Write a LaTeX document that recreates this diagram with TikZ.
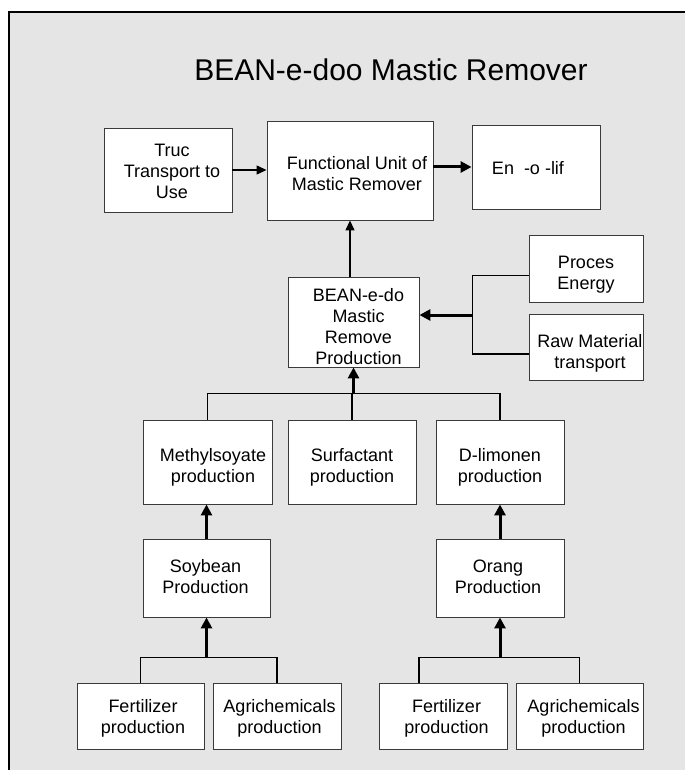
\documentclass[tikz,border=0pt]{standalone}
\usepackage{fontspec}
\setmainfont{Liberation Sans}
\usetikzlibrary{arrows.meta,positioning,calc}
\definecolor{panel}{HTML}{E5E5E5}
\definecolor{edge}{HTML}{3A3A3A}
\tikzset{
  box/.style={draw=edge,line width=0.9pt,fill=white,inner sep=0pt},
  boxtext/.style={align=center,inner sep=0pt,font=\fontsize{18}{21}\selectfont},
  feed/.style={line width=1.3pt},
  flow/.style={line width=1.3pt,-{Triangle[length=10pt,width=9pt]}},
  mainflow/.style={line width=3pt,-{Triangle[length=11pt,width=11pt]}}
}
\begin{document}
\begin{tikzpicture}[x=1pt,y=-1pt]
  \useasboundingbox (0,0) rectangle (685,770);
  \fill[panel] (9,12) rectangle (685,770);
  \draw[line width=1.5pt] (9,770) -- (9,12) -- (685,12);
  \node[font=\fontsize{30}{34}\selectfont] (title) at (391,70) {BEAN-e-doo Mastic Remover};
  \foreach \nm/\cx/\cy/\w/\h/\dx/\dy/\txt in {
    truc/168/170/128/84/4/1.5/{Truc\\Transport to\\Use},
    func/350/170.5/166/99/7/3.5/{Functional Unit of\\Mastic Remover},
    enol/536/167/128/84/-8/1/{En\ \ -o -lif},
    bean/353.5/322/131/90/5/5/{BEAN-e-do\\Mastic\\Remove\\Production},
    proc/586/268.5/114/67/0/6/{Proces\\Energy},
    raw/586/347/114/66/4/6/{Raw Material\\transport},
    meth/207.5/462/129/84/5.5/5/{Methylsoyate\\production},
    surf/352/462/128/84/0/5/{Surfactant\\production},
    dlim/500/462/128/84/0/5/{D-limonen\\production},
    soy/206.5/578/127/78/-1/-1.5/{Soybean\\Production},
    orang/500/578/128/78/-2/-1.5/{Orang\\Production},
    fert1/140.5/716/127/66/2.5/2.5/{Fertilizer\\production},
    agri1/277/716/128/66/2.5/2.5/{Agrichemicals\\production},
    fert2/443/716/128/66/3.5/2.5/{Fertilizer\\production},
    agri2/579.5/716/127/66/4/2.5/{Agrichemicals\\production}} {
    \node[box,minimum width=\w pt,minimum height=\h pt] (\nm) at (\cx,\cy) {};
    \node[boxtext] (\nm-txt) at ($(\nm)+(\dx,\dy)$) {\txt};
  }
  % top row
  \draw[flow] (truc.east) -- (truc.east -| func.west);
  \draw[mainflow] (func.east |- enol.west) -- (enol.west);
  \draw[flow] (func.south |- bean.north) -- (func.south);
  % energy and transport inputs
  \coordinate (rjoin) at ($(bean.east)+(53,-7)$);
  \draw[feed] ([yshift=-7pt]proc.west) -| (rjoin) |- ([yshift=-7pt]raw.west);
  \draw[mainflow] (rjoin) -- (rjoin -| bean.east);
  % ingredients
  \coordinate (mjoin) at ($(bean.south)+(0,26)$);
  \draw[feed] (meth.north) |- (mjoin) -| (dlim.north);
  \draw[feed] (surf.north) -- (surf.north |- mjoin);
  \draw[mainflow] (mjoin) -- (bean.south);
  \draw[mainflow] (soy.north) -- (soy.north |- meth.south);
  \draw[mainflow] (orang.north) -- (dlim.south);
  % farming inputs
  \coordinate (sjoin) at ($(soy.south)+(0,40)$);
  \draw[feed] (fert1.north) |- (sjoin) -| (agri1.north);
  \draw[mainflow] (sjoin) -- (soy.south);
  \coordinate (ojoin) at ($(orang.south)+(0,40)$);
  \draw[feed] ([xshift=-24pt]fert2.north) |- (ojoin) -| (agri2.north);
  \draw[mainflow] (ojoin) -- (orang.south);
\end{tikzpicture}
\end{document}
